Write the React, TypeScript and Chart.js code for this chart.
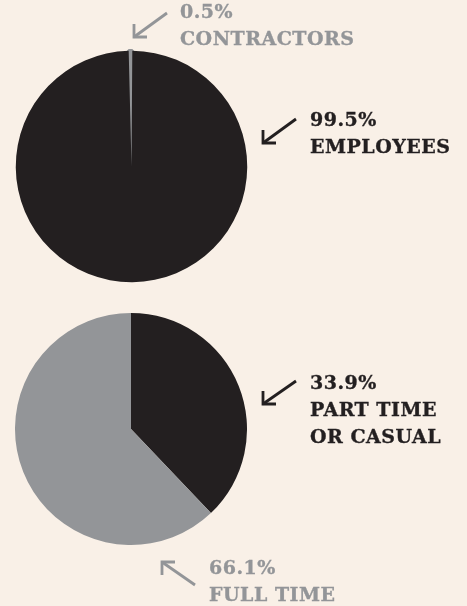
import React, { useEffect, useRef } from "react";
import { Chart, registerables } from "chart.js";

Chart.register(...registerables);

const employmentCategories = ["Contractors", "Employees"];
const employmentValues = [0.5, 99.5];
const employmentLabels = [["0.5%", "CONTRACTORS"], ["99.5%", "EMPLOYEES"]];

const hoursCategories = ["Part time or casual", "Full time"];
const hoursValues = [37.9, 62.1];
const hoursLabels = [["33.9%", "PART TIME", "OR CASUAL"], ["66.1%", "FULL TIME"]];

const BLACK = "#231f20";
const GREY = "#939598";
const BG = "#f9f0e7";
const FONT = '"DejaVu Serif", serif';

function Pie(props: {
  labels: string[];
  values: number[];
  colors: string[];
  borderWidths: number[];
  rotation: number;
  style: React.CSSProperties;
  size: number;
}) {
  const ref = useRef<HTMLCanvasElement | null>(null);
  useEffect(() => {
    if (!ref.current) return;
    const chart = new Chart(ref.current, {
      type: "pie",
      data: {
        labels: props.labels,
        datasets: [
          {
            data: props.values,
            backgroundColor: props.colors,
            borderColor: props.colors,
            borderWidth: props.borderWidths,
            hoverOffset: 0,
            offset: 0,
          },
        ],
      },
      options: {
        responsive: false,
        animation: false,
        rotation: props.rotation,
        layout: { padding: 0 },
        plugins: { legend: { display: false }, tooltip: { enabled: false } },
        events: [],
      },
    });
    return () => chart.destroy();
  }, []);
  return (
    <canvas
      ref={ref}
      width={props.size}
      height={props.size}
      style={{ position: "absolute", width: props.size, height: props.size, ...props.style }}
    />
  );
}

function Label(props: { lines: string[]; x: number; y: number; color: string }) {
  return (
    <>
      {props.lines.map((t, i) => (
        <div
          key={i}
          style={{
            position: "absolute",
            left: props.x,
            top: props.y + i * 27,
            fontFamily: FONT,
            fontWeight: "bold",
            fontSize: 19,
            lineHeight: "20px",
            color: props.color,
            whiteSpace: "nowrap",
            letterSpacing: 0.5,
            WebkitTextStroke: `0.35px ${props.color}`,
          }}
        >
          {t}
        </div>
      ))}
    </>
  );
}

function Arrow(props: { x1: number; y1: number; x2: number; y2: number; a1: [number, number]; a2: [number, number]; color: string }) {
  const { x1, y1, x2, y2, a1, a2, color } = props;
  return (
    <g stroke={color} strokeWidth={2.8} fill="none" strokeLinecap="butt" strokeLinejoin="miter">
      <line x1={x1} y1={y1} x2={x2} y2={y2} />
      <polyline points={`${a1[0]},${a1[1]} ${x2},${y2} ${a2[0]},${a2[1]}`} />
    </g>
  );
}

export default function App() {
  useEffect(() => {
    document.body.style.margin = "0";
    document.body.style.background = BG;
  }, []);
  return (
    <div style={{ position: "relative", width: 467, height: 606, background: BG, overflow: "hidden" }}>
      <Pie
        labels={employmentCategories}
        values={employmentValues}
        colors={[GREY, BLACK]}
        borderWidths={[3.5, 0]}
        rotation={-1.4}
        size={235}
        style={{ left: 13.5, top: 48.5 }}
      />
      <Pie
        labels={hoursCategories}
        values={hoursValues}
        colors={[BLACK, GREY]}
        borderWidths={[0, 0]}
        rotation={0}
        size={232}
        style={{ left: 15, top: 313 }}
      />
      <svg width={467} height={606} style={{ position: "absolute", left: 0, top: 0 }}>
        <Arrow x1={167} y1={13} x2={134} y2={37} a1={[134, 24]} a2={[147, 37]} color={GREY} />
        <Arrow x1={296} y1={119} x2={263} y2={143} a1={[263, 130]} a2={[276, 143]} color={BLACK} />
        <Arrow x1={296} y1={381} x2={263} y2={404} a1={[263, 391]} a2={[276, 404]} color={BLACK} />
        <Arrow x1={195} y1={585} x2={162} y2={562} a1={[175, 562]} a2={[162, 575]} color={GREY} />
      </svg>
      <Label lines={employmentLabels[0]} x={180} y={1} color={GREY} />
      <Label lines={employmentLabels[1]} x={310} y={109} color={BLACK} />
      <Label lines={hoursLabels[0]} x={310} y={372} color={BLACK} />
      <Label lines={hoursLabels[1]} x={209} y={557} color={GREY} />
    </div>
  );
}
